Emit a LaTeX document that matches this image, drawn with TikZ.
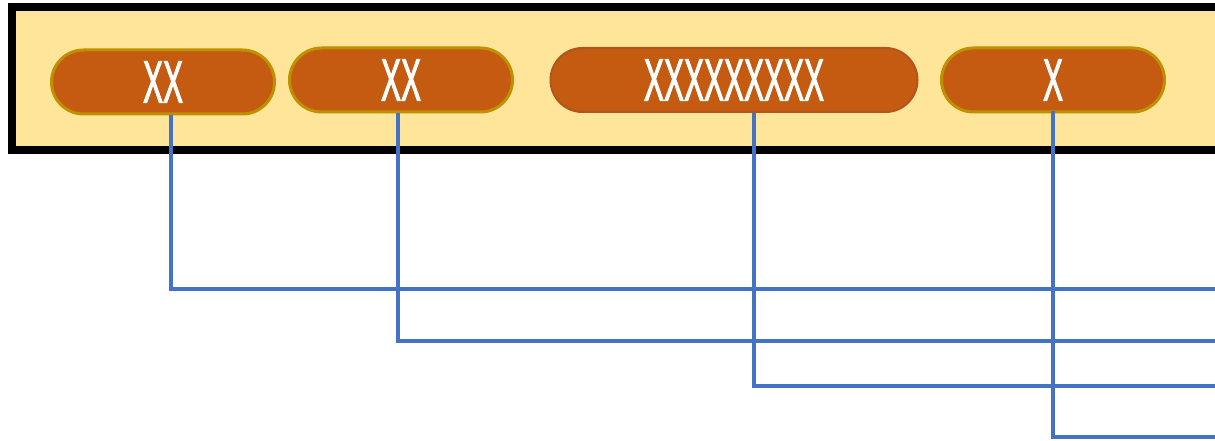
\documentclass[tikz,border=0pt]{standalone}
\usepackage{fontspec}
\newfontfamily\pillfont[FakeStretch=0.5,FakeBold=1.5]{Liberation Sans}
\definecolor{boxfill}{HTML}{FFE599}
\definecolor{pillfill}{HTML}{C55A11}
\definecolor{pillgold}{HTML}{BF9000}
\definecolor{pilldark}{HTML}{B0561C}
\definecolor{linkblue}{HTML}{4472C4}
\tikzset{
  pill/.style={draw=pillgold, line width=3pt, fill=pillfill, rounded corners=32pt,
    minimum height=64pt, inner sep=0pt, text=white, font=\pillfont\fontsize{60}{60}\selectfont},
  link/.style={draw=linkblue, line width=3.5pt},
}
\begin{document}
\begin{tikzpicture}[x=1pt,y=-1pt]
\clip (0,0) rectangle (1215,441);
\fill[white] (0,0) rectangle (1215,441);
\draw[line width=8pt, fill=boxfill] (12,7) rectangle (1240,150);
\node[pill, minimum width=223pt] (p1) at (163,82) {XX};
\node[pill, minimum width=223pt] (p2) at (401,80) {XX};
\node[pill, draw=pilldark, line width=2pt, minimum width=367pt] (p3) at (734,80) {XXXXXXXXX};
\node[pill, minimum width=223pt] (p4) at (1053,80) {X};
\coordinate (e1) at (1220,289);
\coordinate (e2) at (1220,341);
\coordinate (e3) at (1220,386);
\coordinate (e4) at (1220,437);
\draw[link] ([xshift=8pt]p1.south) |- (e1);
\draw[link] ([xshift=-3pt]p2.south) |- (e2);
\draw[link] ([xshift=20pt]p3.south) |- (e3);
\draw[link] ([yshift=2pt]p4.south) |- (e4);
\end{tikzpicture}
\end{document}
